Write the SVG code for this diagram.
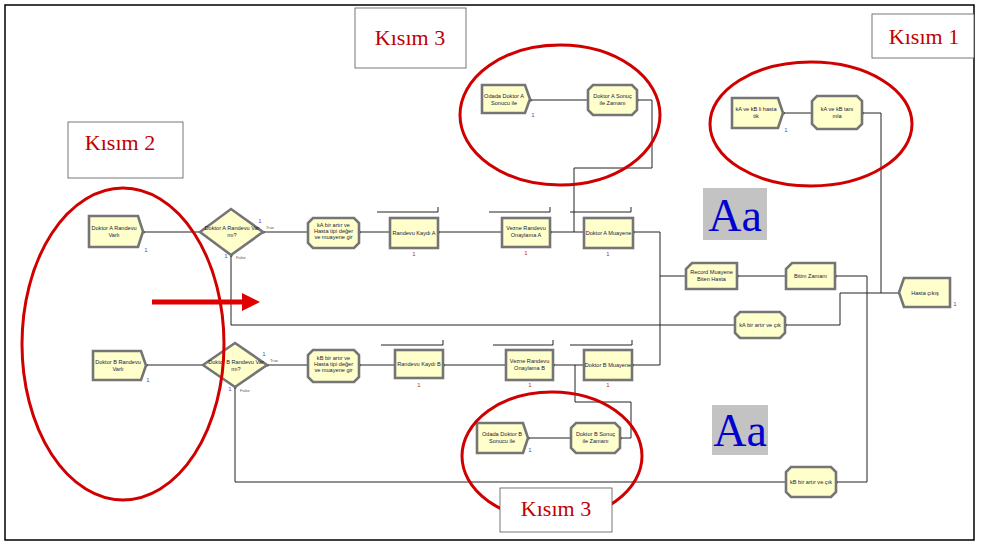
<svg xmlns="http://www.w3.org/2000/svg" width="982" height="545" viewBox="0 0 982 545">
  <defs>
    <style>
      .frame { fill: none; stroke: #000; stroke-width: 1.5; }
      .label-box { fill: #fff; stroke: #555; stroke-width: 0.8; }
      .kisim { font-family: "Liberation Serif", serif; font-size: 22px; fill: #c00000; text-anchor: middle; }
      .aa-box { fill: #c3c3c3; }
      .aa { font-family: "Liberation Serif", serif; font-size: 46px; fill: #0000d0; text-anchor: middle; }
      .ring { fill: none; stroke: #d00000; stroke-width: 3; }
      .nd { fill: #ffffcc; stroke: #757575; stroke-width: 2.6; stroke-linejoin: miter; }
      .t { font-family: "Liberation Sans", Arial, sans-serif; font-size: 5.6px; fill: #1a1a40; text-anchor: middle; }
      .cn { fill: none; stroke: #222; stroke-width: 1; }
      .q { fill: none; stroke: #222; stroke-width: 1; }
      .dot { fill: #000; }
      .n1 { font-family: "Liberation Sans", Arial, sans-serif; font-size: 6px; fill: #c03030; text-anchor: middle; }
      .b1 { font-family: "Liberation Sans", Arial, sans-serif; font-size: 6px; fill: #5050c0; text-anchor: middle; }
      .tf { font-family: "Liberation Sans", Arial, sans-serif; font-size: 4px; fill: #555; }
    </style>
  </defs>

  <rect x="0" y="0" width="982" height="545" fill="#fff"/>
  <rect class="frame" x="5" y="5" width="969" height="535"/>

  <!-- section labels -->
  <g id="kisim3-top"><rect class="label-box" x="355" y="8" width="111" height="60"/><text class="kisim" x="410" y="45">Kısım 3</text></g>
  <g id="kisim1"><rect class="label-box" x="872" y="14" width="102" height="44"/><text class="kisim" x="924" y="44">Kısım 1</text></g>
  <g id="kisim2"><rect class="label-box" x="68" y="122" width="115" height="56"/><text class="kisim" x="120" y="150">Kısım 2</text></g>

  <!-- text boxes -->
  <g id="aa1"><rect class="aa-box" x="703" y="188" width="64" height="52"/><text class="aa" x="735" y="231">Aa</text></g>
  <g id="aa2"><rect class="aa-box" x="712" y="405" width="56" height="50"/><text class="aa" x="740" y="446">Aa</text></g>

  <!-- connectors -->
  <g id="connectors">
    <polyline class="cn" points="143,232 200,232"/>
    <polyline class="cn" points="263,232 308,232"/>
    <polyline class="cn" points="359,232 390,232"/>
    <polyline class="cn" points="438,232 502,232"/>
    <polyline class="cn" points="550,232 584,232"/>
    <polyline class="cn" points="637,100 652,100 652,168 574,168 574,232"/>
    <polyline class="cn" points="588,100 530,100"/>
    <polyline class="cn" points="633,232 660,232 660,365 632,365"/>
    <polyline class="cn" points="660,276 686,276"/>
    <polyline class="cn" points="737,276 786,276"/>
    <polyline class="cn" points="835,276 867,276 867,482 836,482"/>
    <polyline class="cn" points="231,255 231,325 735,325"/>
    <polyline class="cn" points="785,325 840,325 840,293 899,293"/>
    <polyline class="cn" points="862,113 881,113 881,293"/>
    <polyline class="cn" points="812,113 783,113"/>
    <polyline class="cn" points="146,365 203,365"/>
    <polyline class="cn" points="267,365 308,365"/>
    <polyline class="cn" points="359,365 395,365"/>
    <polyline class="cn" points="443,365 506,365"/>
    <polyline class="cn" points="553,365 584,365"/>
    <polyline class="cn" points="575,365 575,402 631,402 631,438 620,438"/>
    <polyline class="cn" points="571,438 528,438"/>
    <polyline class="cn" points="235,387 235,482 786,482"/>
    <!-- queue lines above process modules -->
    <polyline class="q" points="377,212 438,212 438,207"/>
    <polyline class="q" points="489,212 550,212 550,207"/>
    <polyline class="q" points="570,212 631,212 631,207"/>
    <polyline class="q" points="381,345 443,345 443,340"/>
    <polyline class="q" points="493,345 553,345 553,340"/>
    <polyline class="q" points="570,345 632,345 632,340"/>
    <!-- exit points -->
    <rect class="dot" x="142" y="231" width="2.4" height="2.4"/>
    <rect class="dot" x="262" y="231" width="2.4" height="2.4"/>
    <rect class="dot" x="230" y="254" width="2.4" height="2.4"/>
    <rect class="dot" x="358" y="231" width="2.4" height="2.4"/>
    <rect class="dot" x="437" y="231" width="2.4" height="2.4"/>
    <rect class="dot" x="549" y="231" width="2.4" height="2.4"/>
    <rect class="dot" x="632" y="231" width="2.4" height="2.4"/>
    <rect class="dot" x="529" y="99" width="2.4" height="2.4"/>
    <rect class="dot" x="636" y="99" width="2.4" height="2.4"/>
    <rect class="dot" x="782" y="112" width="2.4" height="2.4"/>
    <rect class="dot" x="861" y="112" width="2.4" height="2.4"/>
    <rect class="dot" x="736" y="275" width="2.4" height="2.4"/>
    <rect class="dot" x="834" y="275" width="2.4" height="2.4"/>
    <rect class="dot" x="784" y="324" width="2.4" height="2.4"/>
    <rect class="dot" x="145" y="364" width="2.4" height="2.4"/>
    <rect class="dot" x="266" y="364" width="2.4" height="2.4"/>
    <rect class="dot" x="234" y="386" width="2.4" height="2.4"/>
    <rect class="dot" x="358" y="364" width="2.4" height="2.4"/>
    <rect class="dot" x="442" y="364" width="2.4" height="2.4"/>
    <rect class="dot" x="552" y="364" width="2.4" height="2.4"/>
    <rect class="dot" x="631" y="364" width="2.4" height="2.4"/>
    <rect class="dot" x="527" y="437" width="2.4" height="2.4"/>
    <rect class="dot" x="619" y="437" width="2.4" height="2.4"/>
    <rect class="dot" x="835" y="481" width="2.4" height="2.4"/>
  </g>

  <!-- row A -->
  <g id="doktorA-randevu-varli">
    <polygon class="nd" points="89,216 138,216 143,231.5 138,247 89,247"/>
    <text class="t" x="114" y="230">Doktor  A Randevu</text><text class="t" x="114" y="237">Varlı</text>
    <text class="b1" x="146" y="252">1</text>
  </g>
  <g id="doktorA-randevu-var-mi">
    <polygon class="nd" points="200,232 231,209 263,232 231,255"/>
    <text class="t" x="232" y="230">Doktor  A Randevu Var</text><text class="t" x="232" y="237">mı?</text>
    <text class="b1" x="260" y="223">1</text><text class="b1" x="226" y="258">1</text>
    <text class="tf" x="266" y="229">True</text><text class="tf" x="236" y="259">False</text>
  </g>
  <g id="kA-bir-artir">
    <polygon class="nd" points="313,218 354,218 359,223 359,243 354,248 313,248 308,243 308,223"/>
    <text class="t" x="333.5" y="227">kA bir  artır  ve</text><text class="t" x="333.5" y="233">Hasta tipi değer</text><text class="t" x="333.5" y="239">ve muayene gir</text>
  </g>
  <g id="randevu-kaydi-A">
    <rect class="nd" x="390" y="218" width="48" height="30"/>
    <text class="t" x="414" y="235">Randevu Kaydı A</text>
    <text class="n1" x="414" y="256">1</text>
  </g>
  <g id="vezne-randevu-onaylama-A">
    <rect class="nd" x="502" y="218" width="48" height="29"/>
    <text class="t" x="526" y="230">Vezne Randevu</text><text class="t" x="526" y="237">Onaylama A</text>
    <text class="n1" x="526" y="255">1</text>
  </g>
  <g id="doktorA-muayene">
    <rect class="nd" x="584" y="218" width="49" height="30"/>
    <text class="t" x="608.5" y="235">Doktor  A Muayene</text>
    <text class="n1" x="608" y="256">1</text>
  </g>

  <!-- result loop A -->
  <g id="odada-doktorA-sonucu">
    <polygon class="nd" points="482,85 525,85 530,99 525,113 482,113"/>
    <text class="t" x="504" y="98">Odada Doktor  A</text><text class="t" x="504" y="105">Sonucu ile</text>
    <text class="b1" x="533" y="117">1</text>
  </g>
  <g id="doktorA-sonuc-zamani">
    <polygon class="nd" points="593,85 632,85 637,90 637,110 632,115 593,115 588,110 588,90"/>
    <text class="t" x="612.5" y="98">Doktor  A Sonuç</text><text class="t" x="612.5" y="105">ile Zamanı</text>
  </g>

  <!-- section 1 -->
  <g id="kA-kB-li-hasta">
    <polygon class="nd" points="732,98 778,98 783,113 778,128 732,128"/>
    <text class="t" x="756" y="111">kA ve kB li hasta</text><text class="t" x="756" y="118">tik</text>
    <text class="b1" x="786" y="132">1</text>
  </g>
  <g id="kA-kB-tanimla">
    <polygon class="nd" points="817,96 857,96 862,101 862,124 857,129 817,129 812,124 812,101"/>
    <text class="t" x="837" y="111">kA ve kB tanı</text><text class="t" x="837" y="118">mla</text>
  </g>

  <!-- exit side -->
  <g id="record-muayene-biten-hasta">
    <polygon class="nd" points="692,263 737,263 737,289 686,289 686,269"/>
    <text class="t" x="711.5" y="274">Record  Muayene</text><text class="t" x="711.5" y="281">Biten Hasta</text>
  </g>
  <g id="bitim-zamani">
    <polygon class="nd" points="792,263 835,263 835,289 786,289 786,269"/>
    <text class="t" x="810.5" y="278">Bitim  Zamanı</text>
  </g>
  <g id="kA-bir-artir-ve-cik">
    <polygon class="nd" points="740,312 780,312 785,317 785,333 780,338 740,338 735,333 735,317"/>
    <text class="t" x="760" y="327">kA bir  artır  ve çık</text>
  </g>
  <g id="hasta-cikis">
    <polygon class="nd" points="904,278 950,278 950,307 904,307 899,292.5"/>
    <text class="t" x="925" y="295">Hasta çıkış</text>
    <text class="b1" x="955" y="306">1</text>
  </g>

  <!-- row B -->
  <g id="doktorB-randevu-varli">
    <polygon class="nd" points="93,351 141,351 146,365.5 141,380 93,380"/>
    <text class="t" x="118" y="364">Doktor  B Randevu</text><text class="t" x="118" y="371">Varlı</text>
    <text class="b1" x="148" y="382">1</text>
  </g>
  <g id="doktorB-randevu-var-mi">
    <polygon class="nd" points="203,365 235,343 267,365 235,387"/>
    <text class="t" x="236" y="364">Doktor  B Randevu Var</text><text class="t" x="236" y="371">mı?</text>
    <text class="b1" x="264" y="356">1</text><text class="b1" x="230" y="391">1</text>
    <text class="tf" x="270" y="362">True</text><text class="tf" x="240" y="392">False</text>
  </g>
  <g id="kB-bir-artir">
    <polygon class="nd" points="313,350 354,350 359,355 359,377 354,382 313,382 308,377 308,355"/>
    <text class="t" x="333.5" y="360">kB bir  artır  ve</text><text class="t" x="333.5" y="366">Hasta tipi değer</text><text class="t" x="333.5" y="372">ve muayene gir</text>
  </g>
  <g id="randevu-kaydi-B">
    <rect class="nd" x="395" y="350" width="48" height="28"/>
    <text class="t" x="419" y="366">Randevu Kaydı B</text>
    <text class="n1" x="419" y="387">1</text>
  </g>
  <g id="vezne-randevu-onaylama-B">
    <rect class="nd" x="506" y="350" width="47" height="30"/>
    <text class="t" x="529.5" y="363">Vezne Randevu</text><text class="t" x="529.5" y="370">Onaylama B</text>
    <text class="n1" x="530" y="387">1</text>
  </g>
  <g id="doktorB-muayene">
    <rect class="nd" x="584" y="350" width="48" height="30"/>
    <text class="t" x="608" y="367">Doktor  B Muayene</text>
    <text class="n1" x="608" y="387">1</text>
  </g>

  <!-- result loop B -->
  <g id="doktorB-sonuc-zamani">
    <polygon class="nd" points="576,423 615,423 620,428 620,448 615,453 576,453 571,448 571,428"/>
    <text class="t" x="595.5" y="436">Doktor  B Sonuç</text><text class="t" x="595.5" y="443">ile Zamanı</text>
  </g>
  <g id="odada-doktorB-sonucu">
    <polygon class="nd" points="477,423 523,423 528,438 523,453 477,453"/>
    <text class="t" x="502" y="436">Odada Doktor  B</text><text class="t" x="502" y="443">Sonucu ile</text>
    <text class="b1" x="530" y="452">1</text>
  </g>
  <g id="kB-bir-artir-ve-cik">
    <polygon class="nd" points="791,467 831,467 836,472 836,492 831,497 791,497 786,492 786,472"/>
    <text class="t" x="811" y="484">kB bir  artır  ve çık</text>
  </g>

  <!-- highlight rings -->
  <ellipse class="ring" cx="123" cy="344" rx="101" ry="156"/>
  <ellipse class="ring" cx="560" cy="115" rx="100" ry="70"/>
  <ellipse class="ring" cx="811" cy="124" rx="101" ry="62"/>
  <ellipse class="ring" cx="552" cy="456" rx="90" ry="64"/>

  <!-- bottom label sits over the lower ring -->
  <g id="kisim3-bottom"><rect class="label-box" x="500" y="488" width="112" height="44"/><text class="kisim" x="556" y="516">Kısım 3</text></g>

  <!-- pointer arrow -->
  <g id="red-arrow">
    <line x1="152" y1="302" x2="244" y2="302" stroke="#e00000" stroke-width="5"/>
    <polygon points="242,293 260,302 242,311" fill="#e00000"/>
  </g>
</svg>
